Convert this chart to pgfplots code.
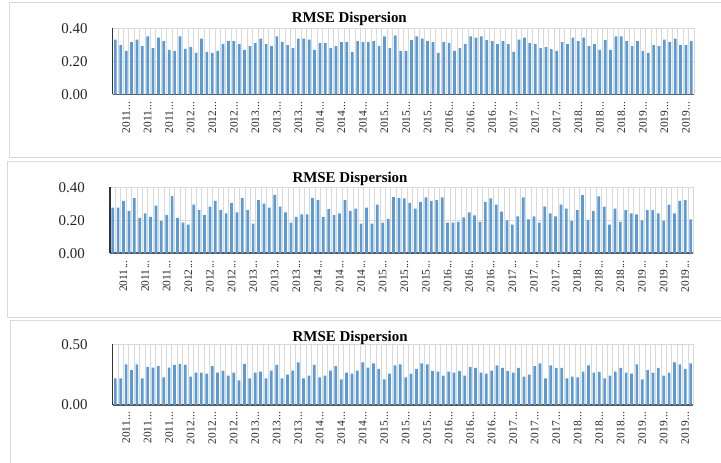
\documentclass[border=0pt]{standalone}
\usepackage{fontspec}
\setmainfont{Liberation Serif}
\usepackage{pgfplots}
\usepackage{pgfplotstable}
\pgfplotsset{compat=1.18}
\definecolor{barblue}{HTML}{5B9BD5}
\definecolor{gridgray}{HTML}{D9D9D9}
\definecolor{axisgray}{HTML}{595959}
\protected\def\dd{\kern0.5bp...}

\pgfplotstableread[row sep=\\]{
i a b c \\
0 0.333 0.277 0.220 \\ 1 0.300 0.277 0.220 \\ 2 0.265 0.317 0.335 \\ 3 0.317 0.255 0.288 \\
4 0.333 0.335 0.335 \\ 5 0.293 0.214 0.220 \\ 6 0.352 0.242 0.313 \\ 7 0.281 0.220 0.308 \\
8 0.345 0.289 0.321 \\ 9 0.323 0.196 0.228 \\ 10 0.271 0.232 0.308 \\ 11 0.265 0.347 0.330 \\
12 0.352 0.214 0.338 \\ 13 0.277 0.186 0.330 \\ 14 0.287 0.174 0.234 \\ 15 0.253 0.295 0.266 \\
16 0.339 0.261 0.266 \\ 17 0.259 0.232 0.258 \\ 18 0.253 0.283 0.321 \\ 19 0.265 0.317 0.266 \\
20 0.305 0.261 0.283 \\ 21 0.323 0.242 0.242 \\ 22 0.323 0.305 0.266 \\ 23 0.305 0.248 0.203 \\
24 0.271 0.335 0.338 \\ 25 0.293 0.261 0.220 \\ 26 0.311 0.180 0.266 \\ 27 0.339 0.323 0.275 \\
28 0.305 0.301 0.220 \\ 29 0.293 0.277 0.283 \\ 30 0.352 0.354 0.330 \\ 31 0.317 0.283 0.220 \\
32 0.299 0.248 0.250 \\ 33 0.281 0.186 0.283 \\ 34 0.339 0.220 0.352 \\ 35 0.339 0.236 0.220 \\
36 0.333 0.236 0.242 \\ 37 0.271 0.335 0.330 \\ 38 0.311 0.323 0.228 \\ 39 0.311 0.220 0.242 \\
40 0.281 0.267 0.283 \\ 41 0.293 0.232 0.321 \\ 42 0.317 0.242 0.212 \\ 43 0.317 0.323 0.266 \\
44 0.259 0.255 0.258 \\ 45 0.323 0.271 0.283 \\ 46 0.317 0.180 0.352 \\ 47 0.317 0.277 0.308 \\
48 0.323 0.180 0.343 \\ 49 0.293 0.295 0.297 \\ 50 0.352 0.186 0.212 \\ 51 0.281 0.208 0.258 \\
52 0.358 0.341 0.327 \\ 53 0.265 0.335 0.335 \\ 54 0.265 0.333 0.228 \\ 55 0.329 0.305 0.258 \\
56 0.352 0.271 0.297 \\ 57 0.339 0.311 0.343 \\ 58 0.323 0.339 0.335 \\ 59 0.317 0.317 0.280 \\
60 0.253 0.323 0.275 \\ 61 0.317 0.339 0.242 \\ 62 0.311 0.186 0.275 \\ 63 0.265 0.186 0.266 \\
64 0.281 0.190 0.280 \\ 65 0.305 0.218 0.242 \\ 66 0.352 0.248 0.313 \\ 67 0.345 0.230 0.305 \\
68 0.352 0.190 0.266 \\ 69 0.329 0.311 0.258 \\ 70 0.323 0.333 0.283 \\ 71 0.305 0.295 0.327 \\
72 0.323 0.253 0.305 \\ 73 0.305 0.200 0.280 \\ 74 0.259 0.174 0.266 \\ 75 0.333 0.224 0.305 \\
76 0.345 0.339 0.234 \\ 77 0.311 0.206 0.250 \\ 78 0.305 0.224 0.321 \\ 79 0.281 0.186 0.343 \\
80 0.287 0.283 0.220 \\ 81 0.275 0.242 0.327 \\ 82 0.265 0.224 0.305 \\ 83 0.317 0.295 0.305 \\
84 0.305 0.271 0.220 \\ 85 0.345 0.196 0.234 \\ 86 0.323 0.261 0.228 \\ 87 0.345 0.352 0.275 \\
88 0.293 0.202 0.327 \\ 89 0.305 0.255 0.266 \\ 90 0.271 0.345 0.272 \\ 91 0.329 0.283 0.220 \\
92 0.271 0.174 0.242 \\ 93 0.352 0.271 0.275 \\ 94 0.352 0.190 0.305 \\ 95 0.323 0.261 0.266 \\
96 0.293 0.242 0.258 \\ 97 0.323 0.236 0.335 \\ 98 0.265 0.200 0.212 \\ 99 0.253 0.261 0.288 \\
100 0.299 0.261 0.266 \\ 101 0.293 0.242 0.305 \\ 102 0.333 0.196 0.242 \\ 103 0.317 0.295 0.266 \\
104 0.339 0.242 0.352 \\ 105 0.299 0.317 0.335 \\ 106 0.299 0.323 0.297 \\ 107 0.323 0.206 0.343 \\
}\rmse

\pgfplotsset{
  rmse/.style={
    scale only axis,
    anchor=south west,
    xmin=-0.5, xmax=107.5, ymin=0,
    axis x line*=bottom, axis y line*=left,
    x axis line style={axisgray, line width=1.8bp, -},
    y axis line style={black!80, line width=1.2bp, -},
    major tick length=0pt, minor tick length=0pt,
    ymajorgrids, xminorgrids,
    minor xtick={-0.5,0.5,...,107.5},
    major grid style={gridgray, line width=0.8bp},
    minor grid style={gridgray, line width=0.8bp},
    xtick={2,6,...,106},
    xticklabels={{2011\dd},{2011\dd},{2011\dd},{2012\dd},{2012\dd},{2012\dd},{2013\dd},{2013\dd},{2013\dd},
      {2014\dd},{2014\dd},{2014\dd},{2015\dd},{2015\dd},{2015\dd},{2016\dd},{2016\dd},{2016\dd},
      {2017\dd},{2017\dd},{2017\dd},{2018\dd},{2018\dd},{2018\dd},{2019\dd},{2019\dd},{2019\dd}},
    xticklabel style={font=\fontsize{11.5}{11.5}\selectfont, text=black!85, yshift=-3.5bp, rotate=90, anchor=east},
    yticklabel style={font=\fontsize{15}{15}\selectfont, text=black!85, anchor=east, xshift=-21.7bp,
      /pgf/number format/.cd, fixed, fixed zerofill, precision=2, assume math mode=true},
    ybar, bar width=0.5,
    title={RMSE Dispersion},
    every axis title/.style={font=\bfseries\fontsize{15}{15}\selectfont, anchor=base},
  },
}

\begin{document}
\begin{tikzpicture}
\path[use as bounding box] (0bp,0bp) rectangle (721bp,463bp);
\draw[gridgray, line width=1bp] (9bp,460bp) rectangle (726bp,305bp);
\draw[gridgray, line width=1bp] (7bp,301bp) rectangle (726bp,145bp);
\draw[gridgray, line width=1bp] (10bp,142bp) rectangle (726bp,-5bp);

\begin{axis}[rmse, at={(112.7bp,368.5bp)}, width=581.3bp, height=66bp,
  ymax=0.4, ytick={0,0.2,0.4},
  title style={at={(axis description cs:0.407,1)}, yshift=5.8bp}]
\addplot[fill=barblue, draw=none] table[x=i, y=a] {\rmse};
\end{axis}

\begin{axis}[rmse, at={(110bp,209.7bp)}, width=583.3bp, height=66bp,
  ymax=0.4, ytick={0,0.2,0.4},
  title style={at={(axis description cs:0.4115,1)}, yshift=4.6bp}]
\addplot[fill=barblue, draw=none] table[x=i, y=b] {\rmse};
\end{axis}

\begin{axis}[rmse, at={(112.7bp,58bp)}, width=580.6bp, height=60.7bp,
  ymax=0.5, ytick={0,0.5},
  title style={at={(axis description cs:0.409,1)}, yshift=2.8bp}]
\addplot[fill=barblue, draw=none] table[x=i, y=c] {\rmse};
\end{axis}
\end{tikzpicture}
\end{document}
